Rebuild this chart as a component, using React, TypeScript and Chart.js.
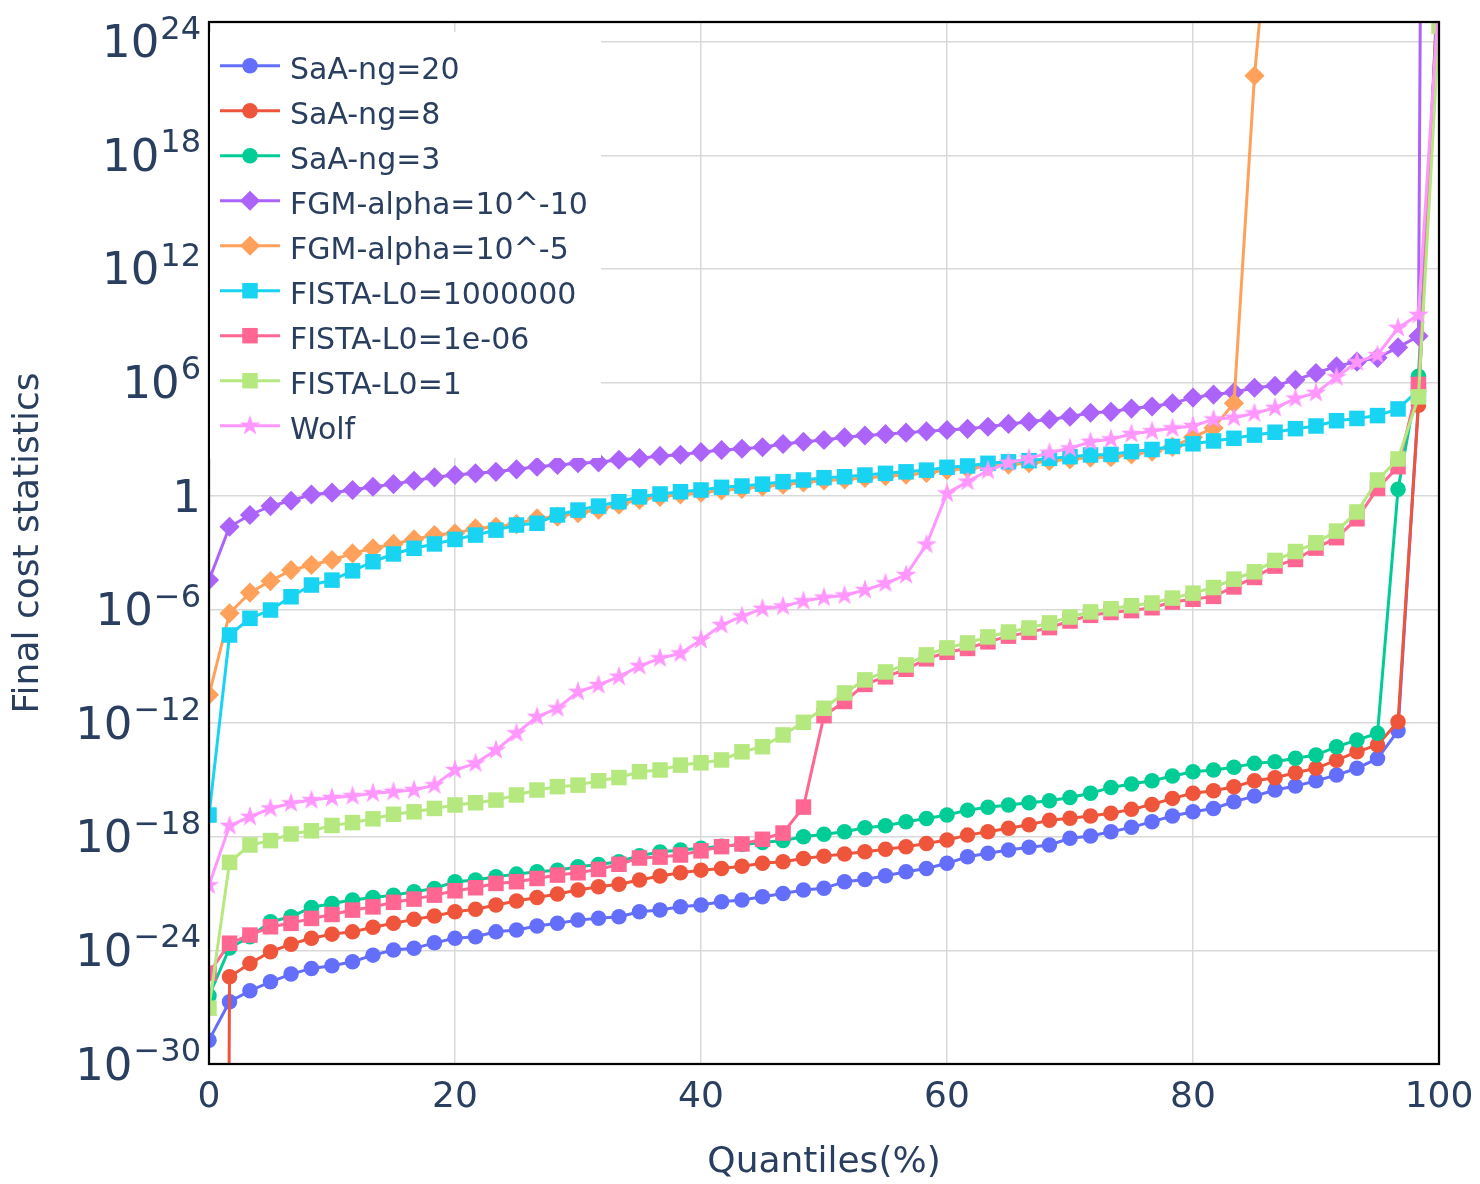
import React, { useEffect, useRef } from 'react';
import { Chart, registerables } from 'chart.js';

Chart.register(...registerables);

// Quantile positions (%) of the 61 samples per solver
const QUANTILES = [
  0, 1.67, 3.33, 5, 6.67, 8.33, 10, 11.67, 13.33, 15,
  16.67, 18.33, 20, 21.67, 23.33, 25, 26.67, 28.33, 30, 31.67,
  33.33, 35, 36.67, 38.33, 40, 41.67, 43.33, 45, 46.67, 48.33,
  50, 51.67, 53.33, 55, 56.67, 58.33, 60, 61.67, 63.33, 65,
  66.67, 68.33, 70, 71.67, 73.33, 75, 76.67, 78.33, 80, 81.67,
  83.33, 85, 86.67, 88.33, 90, 91.67, 93.33, 95, 96.67, 98.33, 100,
];

// Final cost per quantile, stored as log10(cost)
const SAA_NG20 = [
  -28.74, -26.71, -26.13, -25.66, -25.25, -24.95, -24.81, -24.6, -24.25, -23.98,
  -23.89, -23.6, -23.36, -23.28, -23.02, -22.92, -22.71, -22.57, -22.4, -22.3,
  -22.22, -21.96, -21.87, -21.69, -21.6, -21.43, -21.34, -21.17, -20.99, -20.81,
  -20.72, -20.37, -20.25, -20.06, -19.85, -19.67, -19.4, -19.05, -18.87, -18.7,
  -18.55, -18.43, -18.08, -17.96, -17.73, -17.5, -17.2, -16.9, -16.68, -16.5,
  -16.15, -15.85, -15.53, -15.32, -15.04, -14.74, -14.38, -13.86, -12.4, 5.0, 28,
];
const SAA_NG8 = [
  -250, -25.39, -24.69, -24.07, -23.67, -23.36, -23.14, -23.02, -22.78, -22.57,
  -22.36, -22.18, -21.96, -21.83, -21.6, -21.39, -21.2, -21.02, -20.81, -20.64,
  -20.5, -20.28, -20.07, -19.9, -19.76, -19.67, -19.55, -19.4, -19.32, -19.14,
  -19.02, -18.91, -18.79, -18.66, -18.52, -18.35, -18.17, -17.91, -17.73, -17.55,
  -17.36, -17.12, -17.02, -16.9, -16.76, -16.55, -16.29, -15.97, -15.7, -15.57,
  -15.36, -15.04, -14.88, -14.62, -14.38, -13.95, -13.51, -13.15, -11.92, 4.8, 28.5,
];
const SAA_NG3 = [
  -26.4, -23.87, -23.28, -22.49, -22.22, -21.73, -21.52, -21.34, -21.2, -21.08,
  -20.9, -20.73, -20.37, -20.28, -20.11, -19.97, -19.85, -19.76, -19.58, -19.46,
  -19.32, -19.0, -18.8, -18.7, -18.6, -18.5, -18.4, -18.3, -18.2, -18.0,
  -17.86, -17.73, -17.52, -17.42, -17.2, -17.03, -16.85, -16.59, -16.44, -16.32,
  -16.2, -16.09, -15.92, -15.7, -15.39, -15.21, -15.04, -14.79, -14.56, -14.47,
  -14.33, -14.12, -14.03, -13.85, -13.68, -13.24, -12.89, -12.53, 0.36, 6.33, 27.5,
];
const FGM_ALPHA_1E10 = [
  -4.44, -1.62, -1.0, -0.53, -0.25, 0.08, 0.18, 0.32, 0.49, 0.63,
  0.81, 0.99, 1.11, 1.2, 1.28, 1.41, 1.55, 1.64, 1.73, 1.78,
  1.92, 2.0, 2.12, 2.18, 2.32, 2.43, 2.5, 2.58, 2.75, 2.87,
  2.96, 3.1, 3.2, 3.27, 3.35, 3.42, 3.49, 3.55, 3.66, 3.81,
  3.93, 4.05, 4.19, 4.4, 4.45, 4.62, 4.73, 4.9, 5.2, 5.36,
  5.48, 5.72, 5.82, 6.14, 6.5, 6.85, 7.1, 7.3, 7.85, 8.45, 200,
];
const FGM_ALPHA_1E5 = [
  -10.5, -6.19, -5.1, -4.49, -3.91, -3.64, -3.38, -3.03, -2.76, -2.53,
  -2.29, -2.06, -1.97, -1.71, -1.62, -1.48, -1.18, -1.09, -0.9, -0.72,
  -0.45, -0.2, -0.04, 0.08, 0.18, 0.3, 0.38, 0.5, 0.6, 0.72,
  0.82, 0.88, 0.96, 1.05, 1.13, 1.22, 1.37, 1.46, 1.58, 1.66,
  1.73, 1.85, 1.94, 2.03, 2.05, 2.2, 2.35, 2.6, 3.1, 3.6,
  4.9, 22.2, 34, 36, 38, 40, 42, 44, 46, 48, 60,
];
const FISTA_L0_1E6 = [
  -16.85, -7.34, -6.46, -6.02, -5.32, -4.7, -4.44, -3.95, -3.47, -3.06,
  -2.76, -2.53, -2.29, -2.06, -1.8, -1.53, -1.44, -1.0, -0.74, -0.53,
  -0.3, -0.04, 0.11, 0.23, 0.32, 0.46, 0.53, 0.63, 0.76, 0.85,
  0.97, 1.02, 1.11, 1.2, 1.28, 1.37, 1.52, 1.59, 1.73, 1.81,
  1.87, 1.99, 2.08, 2.17, 2.2, 2.35, 2.46, 2.62, 2.76, 2.91,
  3.05, 3.22, 3.37, 3.56, 3.7, 3.98, 4.1, 4.25, 4.6, 5.6, 27,
];
const FISTA_L0_1EM6 = [
  -25.2, -23.62, -23.19, -22.75, -22.57, -22.31, -22.1, -21.87, -21.7, -21.46,
  -21.29, -21.08, -20.85, -20.69, -20.46, -20.37, -20.2, -20.02, -19.9, -19.72,
  -19.45, -19.12, -19.07, -18.96, -18.74, -18.52, -18.38, -18.13, -17.8, -16.43,
  -11.6, -10.85, -9.95, -9.55, -9.15, -8.6, -8.25, -8.05, -7.7, -7.4,
  -7.2, -6.95, -6.6, -6.3, -6.15, -6.05, -5.9, -5.6, -5.45, -5.3,
  -4.8, -4.3, -3.7, -3.35, -2.75, -2.2, -1.2, 0.4, 1.55, 5.9, 26,
];
const FISTA_L0_1 = [
  -27.05, -19.35, -18.43, -18.2, -17.85, -17.68, -17.4, -17.25, -17.05, -16.81,
  -16.68, -16.5, -16.32, -16.2, -16.06, -15.79, -15.53, -15.35, -15.27, -15.04,
  -14.87, -14.56, -14.47, -14.21, -14.09, -13.94, -13.51, -13.24, -12.62, -11.95,
  -11.21, -10.4, -9.71, -9.29, -8.92, -8.39, -8.02, -7.76, -7.44, -7.18,
  -6.97, -6.7, -6.39, -6.12, -5.95, -5.79, -5.65, -5.39, -5.13, -4.83,
  -4.39, -4.0, -3.4, -2.93, -2.47, -1.85, -0.84, 0.85, 1.96, 5.24, 24.8,
];
const WOLF = [
  -20.56, -17.42, -16.94, -16.5, -16.23, -16.06, -15.94, -15.85, -15.7, -15.62,
  -15.53, -15.27, -14.47, -14.12, -13.42, -12.53, -11.66, -11.21, -10.34, -9.98,
  -9.54, -8.98, -8.57, -8.31, -7.6, -6.81, -6.35, -5.95, -5.83, -5.55,
  -5.36, -5.25, -4.96, -4.61, -4.17, -2.56, 0.14, 0.76, 1.35, 1.76,
  1.99, 2.29, 2.52, 2.87, 3.0, 3.28, 3.42, 3.58, 3.7, 4.05,
  4.14, 4.37, 4.66, 5.15, 5.45, 6.28, 7.08, 7.45, 8.88, 9.57, 26.5,
];

const SERIES_NAMES = [
  'SaA-ng=20', 'SaA-ng=8', 'SaA-ng=3', 'FGM-alpha=10^-10', 'FGM-alpha=10^-5',
  'FISTA-L0=1000000', 'FISTA-L0=1e-06', 'FISTA-L0=1', 'Wolf',
];
const SERIES_LOG10 = [
  SAA_NG20, SAA_NG8, SAA_NG3, FGM_ALPHA_1E10, FGM_ALPHA_1E5,
  FISTA_L0_1E6, FISTA_L0_1EM6, FISTA_L0_1, WOLF,
];
const SERIES_COLORS = [
  '#636efa', '#EF553B', '#00cc96', '#ab63fa', '#FFA15A',
  '#19d3f3', '#FF6692', '#B6E880', '#FF97FF',
];
const SERIES_MARKERS = [
  'circle', 'circle', 'circle', 'diamond', 'diamond',
  'square', 'square', 'square', 'star',
];

const Y_TICK_EXPONENTS = [-30, -24, -18, -12, -6, 0, 6, 12, 18, 24];
const X_TICKS = [0, 20, 40, 60, 80, 100];
const Y_MIN_EXP = -30;
const Y_MAX_EXP = 25.04;

const TEXT_COLOR = '#2a3f5f';
const GRID_COLOR = '#d9d9d9';
const FONT = '"DejaVu Sans", Verdana, sans-serif';
const MARKER_R = 7.75;
const LINE_W = 3;

function makeStar(color: string, outer: number): HTMLCanvasElement {
  const size = Math.ceil(outer * 2 + 2);
  const c = document.createElement('canvas');
  c.width = size;
  c.height = size;
  const g = c.getContext('2d')!;
  g.translate(size / 2, size / 2);
  g.beginPath();
  for (let k = 0; k < 10; k++) {
    const r = k % 2 === 0 ? outer : outer * 0.382;
    const a = -Math.PI / 2 + (k * Math.PI) / 5;
    g.lineTo(r * Math.cos(a), r * Math.sin(a));
  }
  g.closePath();
  g.fillStyle = color;
  g.fill();
  return c;
}

function drawMarker(ctx: CanvasRenderingContext2D, kind: string, color: string, x: number, y: number, star: HTMLCanvasElement | null) {
  ctx.fillStyle = color;
  if (kind === 'circle') {
    ctx.beginPath();
    ctx.arc(x, y, MARKER_R, 0, Math.PI * 2);
    ctx.fill();
  } else if (kind === 'square') {
    ctx.fillRect(x - MARKER_R, y - MARKER_R, MARKER_R * 2, MARKER_R * 2);
  } else if (kind === 'diamond') {
    const d = MARKER_R * 1.3;
    ctx.beginPath();
    ctx.moveTo(x, y - d);
    ctx.lineTo(x + d, y);
    ctx.lineTo(x, y + d);
    ctx.lineTo(x - d, y);
    ctx.closePath();
    ctx.fill();
  } else if (star) {
    ctx.drawImage(star, x - star.width / 2, y - star.height / 2);
  }
}

export default function App() {
  const canvasRef = useRef<HTMLCanvasElement | null>(null);

  useEffect(() => {
    const canvas = canvasRef.current;
    if (!canvas) return;
    const starImg = makeStar(SERIES_COLORS[8], MARKER_R * 1.4);

    const datasets = SERIES_NAMES.map((name, i) => {
      const kind = SERIES_MARKERS[i];
      let pointStyle: any = 'circle';
      let pointRadius = MARKER_R;
      if (kind === 'square') { pointStyle = 'rect'; pointRadius = MARKER_R * Math.SQRT2; }
      if (kind === 'diamond') { pointStyle = 'rectRot'; pointRadius = MARKER_R * 1.3; }
      if (kind === 'star') { pointStyle = starImg; pointRadius = MARKER_R * 1.4; }
      return {
        label: name,
        data: QUANTILES.map((q, k) => ({ x: q, y: Math.pow(10, SERIES_LOG10[i][k]) })),
        borderColor: SERIES_COLORS[i],
        backgroundColor: SERIES_COLORS[i],
        pointBackgroundColor: SERIES_COLORS[i],
        pointBorderWidth: 0,
        pointStyle,
        pointRadius,
        pointHoverRadius: pointRadius,
        borderWidth: LINE_W,
        tension: 0,
        order: SERIES_NAMES.length - 1 - i,
      };
    });

    const decor = {
      id: 'decor',
      afterDraw(chart: any) {
        const { ctx, chartArea: a, scales } = chart;
        const xs = scales.x;
        const ys = scales.y;
        ctx.save();

        // plot frame
        ctx.strokeStyle = '#000';
        ctx.lineWidth = 2.25;
        ctx.strokeRect(a.left, a.top, a.right - a.left, a.bottom - a.top);

        // y tick labels: 10 with a raised exponent
        ctx.fillStyle = TEXT_COLOR;
        ctx.textBaseline = 'alphabetic';
        ctx.textAlign = 'right';
        const rightEdge = a.left - 8;
        for (const e of Y_TICK_EXPONENTS) {
          const y = ys.getPixelForValue(Math.pow(10, e));
          const base = y + 15.5;
          if (e === 0) {
            ctx.font = `45px ${FONT}`;
            ctx.fillText('1', rightEdge, base);
            continue;
          }
          const exp = (e < 0 ? '\u2212' : '') + Math.abs(e);
          ctx.font = `32px ${FONT}`;
          const w = ctx.measureText(exp).width;
          ctx.fillText(exp, rightEdge, base - 18.5);
          ctx.font = `45px ${FONT}`;
          ctx.fillText('10', rightEdge - w - 1, base);
        }

        // x tick labels
        ctx.textAlign = 'center';
        ctx.font = `36px ${FONT}`;
        for (const v of X_TICKS) {
          ctx.fillText(String(v), xs.getPixelForValue(v), a.bottom + 43);
        }

        // axis titles
        ctx.font = `36px ${FONT}`;
        ctx.fillText('Quantiles(%)', (a.left + a.right) / 2, 1172);
        ctx.save();
        ctx.translate(38, (a.top + a.bottom) / 2);
        ctx.rotate(-Math.PI / 2);
        ctx.fillText('Final cost statistics', 0, 0);
        ctx.restore();

        // legend
        const lx = a.left + 1;
        const ly = 32;
        ctx.fillStyle = '#ffffff';
        ctx.fillRect(lx, ly, 601 - lx, 458 - ly);
        ctx.font = `30px ${FONT}`;
        ctx.textAlign = 'left';
        SERIES_NAMES.forEach((name, i) => {
          const cy = 65.7 + i * 45;
          ctx.strokeStyle = SERIES_COLORS[i];
          ctx.lineWidth = LINE_W;
          ctx.beginPath();
          ctx.moveTo(220, cy);
          ctx.lineTo(280, cy);
          ctx.stroke();
          drawMarker(ctx, SERIES_MARKERS[i], SERIES_COLORS[i], 250, cy, starImg);
          ctx.fillStyle = TEXT_COLOR;
          ctx.fillText(name, 290, cy + 13);
        });

        ctx.restore();
      },
    };

    const chart = new Chart(canvas, {
      type: 'line',
      data: { datasets: datasets as any },
      options: {
        animation: false,
        responsive: false,
        devicePixelRatio: 1,
        layout: { padding: { top: 22, right: 41, bottom: 0, left: 0 } },
        plugins: { legend: { display: false }, tooltip: { enabled: false } },
        scales: {
          x: {
            type: 'linear',
            min: 0,
            max: 100,
            ticks: { display: false, stepSize: 20 },
            grid: { color: GRID_COLOR, lineWidth: 1.5, drawTicks: false },
            border: { display: false },
            afterFit: (s: any) => { s.height = 120; },
          },
          y: {
            type: 'logarithmic',
            min: Math.pow(10, Y_MIN_EXP),
            max: Math.pow(10, Y_MAX_EXP),
            ticks: { display: false },
            grid: { color: GRID_COLOR, lineWidth: 1.5, drawTicks: false },
            border: { display: false },
            afterBuildTicks: (s: any) => {
              s.ticks = Y_TICK_EXPONENTS.map((e) => ({ value: Math.pow(10, e) }));
            },
            afterFit: (s: any) => { s.width = 209; },
          },
        },
      },
      plugins: [decor],
    });

    return () => chart.destroy();
  }, []);

  return (
    <div style={{ position: 'fixed', left: 0, top: 0, width: 1480, height: 1184, background: '#fff' }}>
      <canvas ref={canvasRef} width={1480} height={1184} style={{ display: 'block' }} />
    </div>
  );
}
